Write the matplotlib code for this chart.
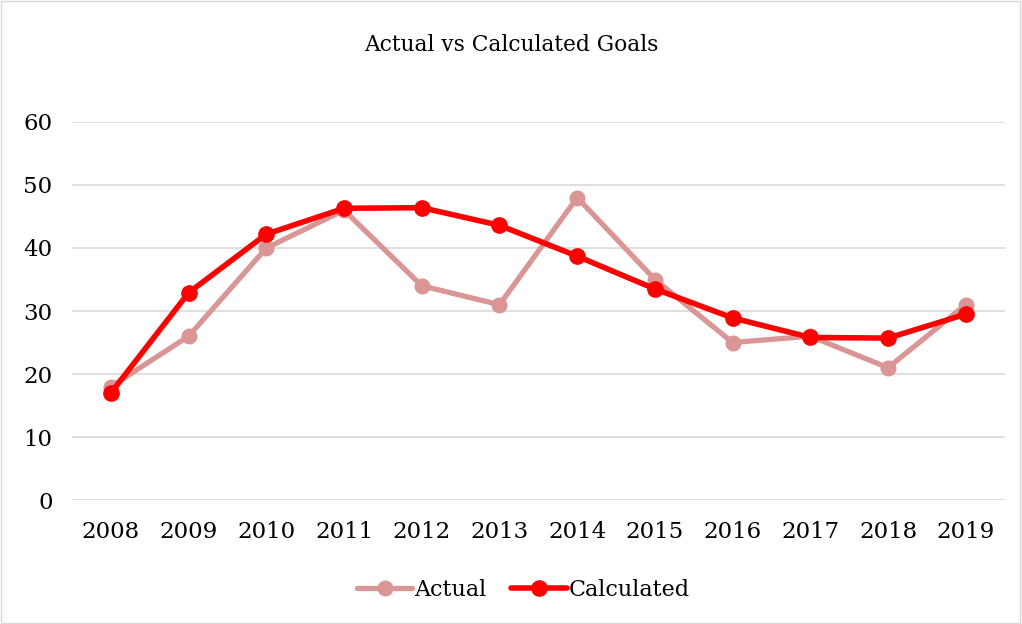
import numpy as np
from matplotlib import pyplot as plt
from matplotlib.patches import Rectangle

plt.rcParams['font.family'] = ['DejaVu Serif']

# data
years = ['2008', '2009', '2010', '2011', '2012', '2013',
         '2014', '2015', '2016', '2017', '2018', '2019']
actual = [18, 26, 40, 46, 34, 31, 48, 35, 25, 26, 21, 31]
calculated = [17.0, 32.9, 42.2, 46.3, 46.4, 43.6, 38.7, 33.5, 28.9, 25.8, 25.7, 29.5]
y_ticks = [0, 10, 20, 30, 40, 50, 60]

fig = plt.figure(figsize=(10.22, 6.24), dpi=100)
ax = fig.add_axes([0.0705, 0.1987, 0.9125, 0.6058])

x = np.arange(len(years))
ax.plot(x, actual, color='#D99694', lw=3.8, marker='o', ms=10.5,
        label='Actual', solid_capstyle='round', zorder=3)
ax.plot(x, calculated, color='#FF0000', lw=4.0, marker='o', ms=11,
        label='Calculated', solid_capstyle='round', zorder=4)

ax.set_xlim(-0.5, len(years) - 0.5)
ax.set_ylim(0, 60)
ax.set_yticks(y_ticks)
ax.set_xticks(x)
ax.set_xticklabels(years)
ax.tick_params(axis='both', length=0, labelsize=16.5, colors='#000000')
ax.tick_params(axis='y', pad=14)
ax.tick_params(axis='x', pad=15)
ax.grid(axis='y', color='#D9D9D9', lw=1.2)
ax.set_axisbelow(True)
for sp in ax.spines.values():
    sp.set_visible(False)

fig.text(0.5, 0.928, 'Actual vs Calculated Goals', ha='center', va='center', fontsize=15.7)

ax.legend(loc='center', bbox_to_anchor=(0.484, -0.238), ncol=2, frameon=False,
          fontsize=16, handlelength=2.5, handletextpad=0.1, columnspacing=1.1)

fig.patches.append(Rectangle((0.001, 0.002), 0.997, 0.996, transform=fig.transFigure,
                             fill=False, edgecolor='#D9D9D9', lw=1))

fig.savefig('out.png', dpi=100)
